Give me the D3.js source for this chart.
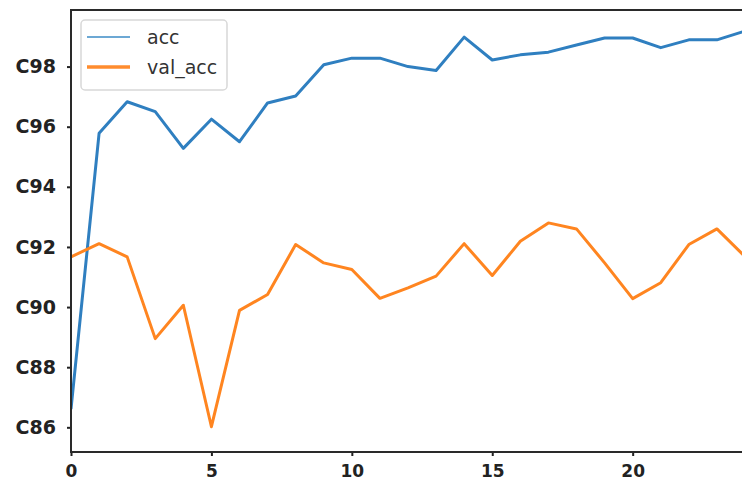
<!DOCTYPE html>
<html>
<head>
<meta charset="utf-8">
<script src="https://cdn.jsdelivr.net/npm/d3@7"></script>
<style>
  body { margin: 0; background: #fff; }
  svg { display: block; }
</style>
</head>
<body>
<svg id="chart"></svg>
<script>
// epochs and the two series
let epochs = d3.range(0, 25);
let acc = [0.8661, 0.9578, 0.9683, 0.9650, 0.9528, 0.9625, 0.9550, 0.9679, 0.9702, 0.9806,
    0.9828, 0.9828, 0.9800, 0.9787, 0.9898, 0.9822, 0.9839, 0.9848, 0.9872, 0.9895,
    0.9895, 0.9863, 0.9889, 0.9889, 0.9918];
let val_acc = [0.9167, 0.9211, 0.9167, 0.8895, 0.9006, 0.8602, 0.8989, 0.9042, 0.9208, 0.9147,
    0.9125, 0.9029, 0.9064, 0.9103, 0.9211, 0.9105, 0.9219, 0.9280, 0.9260, 0.9147,
    0.9028, 0.9081, 0.9208, 0.9260, 0.9168];

let yTicks = [0.86, 0.88, 0.90, 0.92, 0.94, 0.96, 0.98];
let yTickLabels = ["C86", "C88", "C90", "C92", "C94", "C96", "C98"];
let xTicks = [0, 5, 10, 15, 20];
let seriesNames = ["acc", "val_acc"];

function drawChart() {
    let W = 742, H = 486;
    let margin = { top: 10, right: -3, bottom: 34, left: 71 },
        width = W - margin.left - margin.right,
        height = H - margin.top - margin.bottom;

    let svg = d3.select('#chart')
        .attr('width', W)
        .attr('height', H)

    let g = svg.append('g')
        .attr('transform', `translate(${margin.left}, ${margin.top})`)

    // the scales
    let x = d3.scaleLinear().domain([0, 24]).range([0, width])
    let y = d3.scaleLinear().domain([0.85179, 0.99882]).range([height, 0])

    g.append('clipPath').attr('id', 'plotClip')
        .append('rect').attr('width', width).attr('height', height)

    let line = d3.line()
        .x(function (d, i) { return x(epochs[i]); })
        .y(function (d) { return y(d); })

    let plot = g.append('g').attr('clip-path', 'url(#plotClip)')

    plot.append('path')
        .datum(acc)
        .attr('fill', 'none')
        .attr('stroke', '#2f7fc0')
        .attr('stroke-width', 3)
        .attr('stroke-linejoin', 'round')
        .attr('d', line)

    plot.append('path')
        .datum(val_acc)
        .attr('fill', 'none')
        .attr('stroke', '#ff8520')
        .attr('stroke-width', 3)
        .attr('stroke-linejoin', 'round')
        .attr('d', line)

    // y axis
    let yAxis = g.append('g')
        .call(d3.axisLeft(y).tickValues(yTicks).tickSize(4).tickPadding(11)
            .tickFormat(function (d, i) { return yTickLabels[i]; }))
    yAxis.select('.domain').remove()
    yAxis.selectAll('line').attr('stroke', '#222').attr('stroke-width', 2)
    yAxis.selectAll('text')
        .style('font-family', 'DejaVu Sans')
        .style('font-weight', 'bold')
        .style('font-size', '19px')
        .style('fill', '#222')

    // x axis
    let xAxis = g.append('g')
        .attr('transform', `translate(0, ${height})`)
        .call(d3.axisBottom(x).tickValues(xTicks).tickSize(4).tickPadding(9).tickFormat(d3.format('d')))
    xAxis.select('.domain').remove()
    xAxis.selectAll('line').attr('stroke', '#222').attr('stroke-width', 2)
    xAxis.selectAll('text')
        .style('font-family', 'DejaVu Sans')
        .style('font-weight', 'bold')
        .style('font-size', '17px')
        .style('fill', '#222')

    // spines
    g.append('rect')
        .attr('x', 0).attr('y', 0)
        .attr('width', width).attr('height', height)
        .attr('fill', 'none')
        .attr('stroke', '#2a2a2a')
        .attr('stroke-width', 2)

    // legend
    let legend = g.append('g').attr('transform', 'translate(10, 10)')
    legend.append('rect')
        .attr('width', 146).attr('height', 70)
        .attr('rx', 4)
        .attr('fill', '#fff')
        .attr('stroke', '#d8d8d8')
        .attr('stroke-width', 1.5)

    let colors = ['#3b8bc6', '#ff8c2e'];
    let widths = [1.6, 3.5];
    seriesNames.forEach(function (name, i) {
        let ly = 17 + i * 30;
        legend.append('line')
            .attr('x1', 6).attr('x2', 49)
            .attr('y1', ly).attr('y2', ly)
            .attr('stroke', colors[i])
            .attr('stroke-width', widths[i])
        legend.append('text')
            .attr('x', 66).attr('y', ly + 7)
            .style('font-family', 'DejaVu Sans')
            .style('font-size', '19px')
            .style('fill', '#333')
            .text(name)
    })
}

drawChart();
</script>
</body>
</html>
